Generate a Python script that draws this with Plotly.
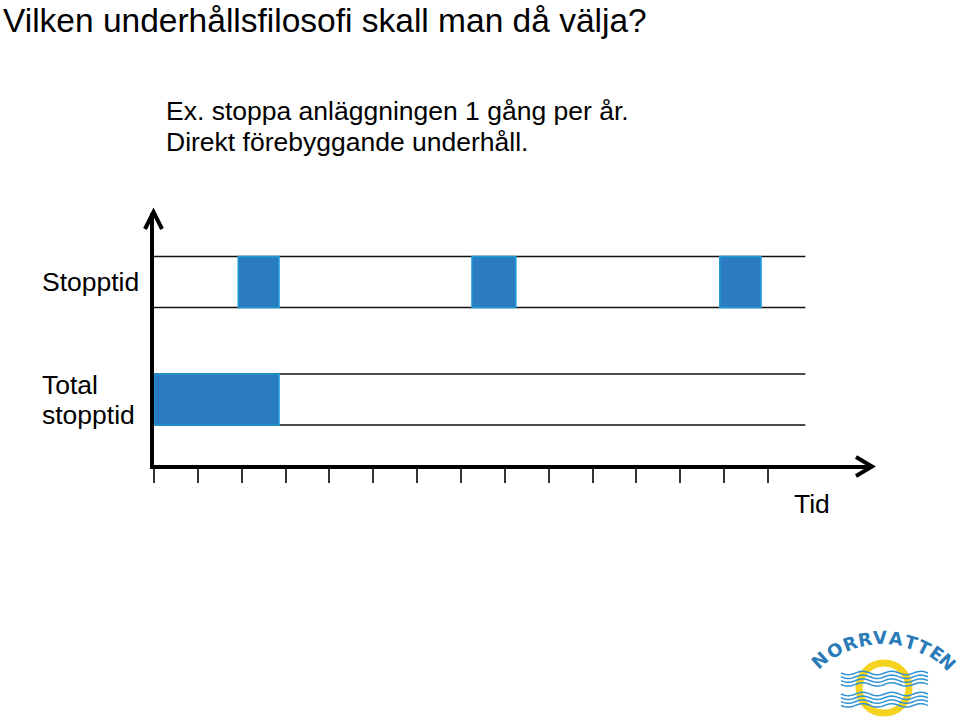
import numpy as np
import plotly.graph_objects as go

# ---- data ----
row_labels = ["Total<br>stopptid", "Stopptid"]
row_pos = [1, 2]
stop_starts = [1.92, 7.25, 12.90]      # start of each planned stop (time units)
stop_durations = [0.93, 1.00, 0.94]    # duration of each stop
total_start = [0.0]
total_duration = [2.85]                # accumulated stop time
tick_values = list(range(0, 15))

title_text = "Vilken underhållsfilosofi skall man då välja?"
sub_lines = ["Ex. stoppa anläggningen 1 gång per år.", "Direkt förebyggande underhåll."]
x_label = "Tid"

# ---- layout geometry (pixels) ----
W, H = 960, 727
L, R, T, B = 154, 89, 213, 262
PW, PH = W - L - R, H - T - B
PX_PER_UNIT = 43.86
X_MAX = PW / PX_PER_UNIT
ROW_PX = 117.5
Y_TOP = 1 + (399.5 - T) / ROW_PX
Y_BOT = 1 - (H - B - 399.5) / ROW_PX
BAND = 51 / ROW_PX

def xp(px):
    return (px - L) / PW

def yp(py):
    return (H - B - py) / PH

BLUE = "#2a7bc0"
EDGE = "#1c9bd8"
FONT = "Liberation Sans, Arial"

fig = go.Figure()
fig.add_trace(go.Bar(
    y=[row_pos[1]] * len(stop_starts), x=stop_durations, base=stop_starts,
    orientation="h", width=BAND, marker=dict(color=BLUE, line=dict(color=EDGE, width=1.5)),
    hoverinfo="skip", showlegend=False))
fig.add_trace(go.Bar(
    y=[row_pos[0]], x=total_duration, base=total_start,
    orientation="h", width=BAND, marker=dict(color=BLUE, line=dict(color=EDGE, width=1.5)),
    hoverinfo="skip", showlegend=False))

shapes = []
# row band lines
for r in row_pos:
    for off in (-BAND / 2, BAND / 2):
        shapes.append(dict(type="line", xref="x", yref="y", x0=0, x1=14.85, y0=r + off, y1=r + off,
                           line=dict(color="#111111", width=1.5), layer="below"))
# arrowheads
shapes.append(dict(type="path", xref="paper", yref="paper",
                   path=f"M {xp(145)},{yp(229)} L {xp(153.5)},{yp(212)} L {xp(162)},{yp(229)}",
                   line=dict(color="black", width=4)))
shapes.append(dict(type="path", xref="paper", yref="paper",
                   path=f"M {xp(856)},{yp(457)} L {xp(872)},{yp(466.5)} L {xp(856)},{yp(476)}",
                   line=dict(color="black", width=4)))

# ---- logo (decoration) ----
cx, cy, rr = 884, 688, 25
shapes.append(dict(type="circle", xref="paper", yref="paper",
                   x0=xp(cx - rr), x1=xp(cx + rr), y0=yp(cy + rr), y1=yp(cy - rr),
                   line=dict(color="#f6d31e", width=7)))
for base_y in (673, 694):
    for k in range(4):
        yy = base_y + k * 3.8
        xs = np.linspace(841, 928, 60)
        ys = yy + 1.7 * np.sin((xs - 841) / 87 * 2 * np.pi * 3)
        path = "M " + " L ".join(f"{xp(a)},{yp(b)}" for a, b in zip(xs, ys))
        shapes.append(dict(type="path", xref="paper", yref="paper", path=path,
                           line=dict(color="#2f93d4", width=1.5)))

annotations = []
annotations.append(dict(text=title_text, xref="paper", yref="paper", x=xp(1), y=yp(20),
                        xanchor="left", yanchor="middle", showarrow=False,
                        font=dict(family=FONT, size=33.5, color="black")))
for i, line in enumerate(sub_lines):
    annotations.append(dict(text=line, xref="paper", yref="paper", x=xp(164), y=yp(111 + 31 * i),
                            xanchor="left", yanchor="middle", showarrow=False,
                            font=dict(family=FONT, size=26.5, color="black")))
annotations.append(dict(text="Stopptid", xref="paper", yref="y", x=xp(40), y=row_pos[1],
                        xanchor="left", yanchor="middle", showarrow=False,
                        font=dict(family=FONT, size=26.5, color="black")))
annotations.append(dict(text="Total", xref="paper", yref="paper", x=xp(40), y=yp(385),
                        xanchor="left", yanchor="middle", showarrow=False,
                        font=dict(family=FONT, size=26.5, color="black")))
annotations.append(dict(text="stopptid", xref="paper", yref="paper", x=xp(40), y=yp(415),
                        xanchor="left", yanchor="middle", showarrow=False,
                        font=dict(family=FONT, size=26.5, color="black")))
annotations.append(dict(text=x_label, xref="paper", yref="paper", x=xp(792), y=yp(504),
                        xanchor="left", yanchor="middle", showarrow=False,
                        font=dict(family=FONT, size=26.5, color="black")))

letters = "NORRVATTEN"
lpos = [(819, 660, -42), (834, 650, -32), (850, 643, -20), (865, 639, -10), (880, 637, -2),
        (896, 638, 6), (911, 642, 16), (924, 647, 26), (937, 653, 36), (948, 662, 46)]
for ch, (lx, ly, ang) in zip(letters, lpos):
    annotations.append(dict(text=f"<b>{ch}</b>", xref="paper", yref="paper", x=xp(lx), y=yp(ly),
                            xanchor="center", yanchor="middle", showarrow=False, textangle=ang,
                            font=dict(family="DejaVu Sans", size=18, color="#2a7bb8")))

fig.update_layout(
    width=W, height=H, margin=dict(l=L, r=R, t=T, b=B, pad=0),
    paper_bgcolor="white", plot_bgcolor="white",
    barmode="overlay", showlegend=False,
    shapes=shapes, annotations=annotations,
    xaxis=dict(range=[0, X_MAX], showgrid=False, zeroline=False, showline=True, linecolor="black",
               linewidth=4, ticks="outside", tickvals=tick_values, ticklen=14, tickwidth=1.5,
               tickcolor="#333333", showticklabels=False),
    yaxis=dict(range=[Y_BOT, Y_TOP], showgrid=False, zeroline=False, showline=True, linecolor="black",
               linewidth=4, ticks="", showticklabels=False),
)

fig.write_html("out.html")
